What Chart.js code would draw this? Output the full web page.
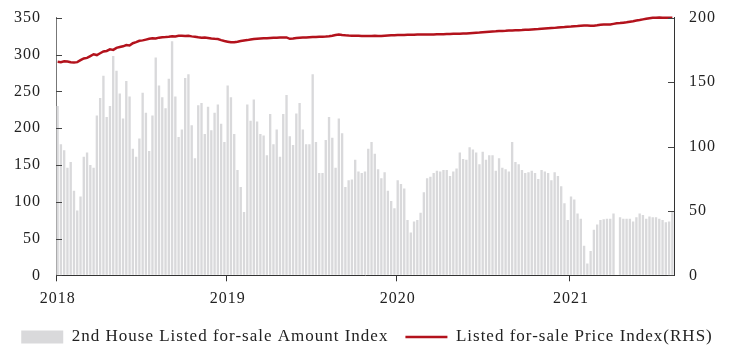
<!DOCTYPE html>
<html><head><meta charset="utf-8">
<script src="https://cdn.jsdelivr.net/npm/chart.js@4/dist/chart.umd.min.js"></script>
<style>html,body{margin:0;padding:0;background:#fff}#wrap{width:734px;height:357px;position:relative}</style>
</head><body><div id="wrap"><canvas id="c"></canvas></div>
<script>
const years = ['2018','2019','2020','2021'];
const weeksPerYear = [52,52,53,32];
const amount2018 = [230,178,170,146,154,115,88,107,161,167,150,146,217,241,271,215,230,298,278,247,213,264,243,172,161,186,248,221,169,217,296,258,242,227,267,318,243,188,198,268,273,204,159,231,234,192,229,197,221,232,206,181];
const amount2019 = [258,242,192,143,120,86,232,210,239,209,192,190,163,219,178,198,161,219,245,189,177,220,234,198,178,178,273,181,139,139,184,215,187,146,213,193,120,129,130,157,141,139,141,172,181,165,144,132,140,115,101,91];
const amount2020 = [129,124,118,75,58,73,75,85,113,132,134,139,142,141,143,143,135,141,145,167,158,157,174,171,167,151,168,157,163,163,142,159,146,144,141,181,154,151,143,139,140,142,139,131,143,141,139,129,140,135,121,98,75];
const amount2021 = [107,103,84,77,40,16,33,62,69,75,76,77,77,84,null,79,77,77,77,73,79,84,82,77,80,79,79,77,75,72,73,86];
const price2018 = [165.8,165.5,166.2,166.0,165.4,165.2,165.5,167.0,168.4,168.8,170.2,171.6,171.0,172.4,173.8,174.2,175.4,175.0,176.6,177.2,177.8,178.8,178.4,180.2,181.0,182.1,182.4,183.0,183.6,184.0,183.8,184.5,184.9,185.0,185.2,185.6,185.4,185.9,186.0,185.8,185.9,185.5,185.2,184.8,184.5,184.6,184.3,183.9,183.6,183.4,182.6,181.9];
const price2019 = [181.4,180.9,181.0,181.4,181.9,182.3,182.6,183.0,183.4,183.6,183.8,184.0,184.1,184.3,184.4,184.5,184.6,184.7,184.7,183.6,183.9,184.3,184.5,184.6,184.7,184.9,185.0,185.1,185.2,185.3,185.4,185.6,186.0,186.6,187.0,186.6,186.3,186.1,186.0,185.9,185.9,185.8,185.8,185.8,185.8,185.9,185.8,185.8,186.0,186.2,186.3,186.4];
const price2020 = [186.5,186.6,186.6,186.7,186.7,186.8,186.9,187.0,187.0,187.0,187.0,187.0,187.1,187.2,187.2,187.3,187.4,187.5,187.5,187.6,187.7,187.8,188.0,188.2,188.4,188.5,188.7,188.9,189.1,189.3,189.4,189.6,189.7,189.8,190.0,190.1,190.2,190.3,190.4,190.6,190.7,190.9,191.1,191.2,191.4,191.6,191.8,192.0,192.1,192.3,192.5,192.7,193.0];
const price2021 = [193.1,193.3,193.5,193.8,194.0,193.9,193.8,193.8,194.1,194.6,194.8,194.7,194.8,195.2,195.6,195.8,196.1,196.4,196.9,197.3,197.8,198.2,198.7,199.2,199.6,200.0,200.0,200.1,200.0,199.9,200.0,200.0];
const leftTicks = [0,50,100,150,200,250,300,350];
const rightTicks = [0,50,100,150,200];
const seriesNames = ['2nd House Listed for-sale Amount Index','Listed for-sale Price Index(RHS)'];

const amountIndex = [...amount2018,...amount2019,...amount2020,...amount2021];
const priceIndex = [...price2018,...price2019,...price2020,...price2021];
const categories = [];
years.forEach((y,i)=>{for(let w=1;w<=weeksPerYear[i];w++) categories.push(y+'-W'+String(w).padStart(2,'0'));});

const FONT = "'Liberation Serif','Times New Roman',serif";
const AXIS = '#333';
const NONE = 'rgba(0,0,0,0)';

const spacing = {
  id:'spacing',
  beforeInit(chart){ try{chart.ctx.letterSpacing='1px';}catch(e){} },
  beforeUpdate(chart){ try{chart.ctx.letterSpacing='1px';}catch(e){} },
  beforeDraw(chart){ try{chart.ctx.letterSpacing='1px';}catch(e){} }
};

const innerTicks = {
  id:'innerTicks',
  afterDraw(chart){
    const ctx = chart.ctx;
    ctx.save(); ctx.strokeStyle = '#444'; ctx.lineWidth = 1;
    [['y',leftTicks],['y1',rightTicks]].forEach(([id,vals])=>{
      const s = chart.scales[id];
      vals.forEach(v=>{
        const py = Math.round(s.getPixelForValue(v))+0.5;
        ctx.beginPath();
        if(id==='y'){ctx.moveTo(s.right,py);ctx.lineTo(s.right+6,py);}
        else {ctx.moveTo(s.left-6,py);ctx.lineTo(s.left,py);}
        ctx.stroke();
      });
    });
    ctx.restore();
  }
};

new Chart(document.getElementById('c'),{
  data:{
    labels:categories,
    datasets:[
      {type:'line',label:seriesNames[1],data:priceIndex,yAxisID:'y1',borderColor:'#B3121C',backgroundColor:'#B3121C',borderWidth:2.5,pointRadius:0,pointStyle:'line',tension:0,order:0,clip:false},
      {type:'bar',label:seriesNames[0],data:amountIndex,yAxisID:'y',backgroundColor:'#D9D9DB',borderWidth:0,barPercentage:0.72,categoryPercentage:1.0,pointStyle:'rect',order:1}
    ]
  },
  options:{
    responsive:true,maintainAspectRatio:false,animation:false,
    layout:{padding:{top:17.7,left:0,right:0,bottom:1.5}},
    plugins:{
      tooltip:{enabled:false},
      legend:{position:'bottom',
        labels:{usePointStyle:true,pointStyleWidth:42,boxHeight:13,padding:17,color:'#222',font:{family:FONT,size:17},
          sort:(a,b)=>b.datasetIndex-a.datasetIndex}
      }
    },
    scales:{
      x:{
        type:'category',
        grid:{drawOnChartArea:false,tickLength:6,offset:true,
          color:c=>(c.tick&&c.tick.label)?AXIS:NONE},
        border:{display:true,color:AXIS},
        ticks:{autoSkip:false,maxRotation:0,minRotation:0,padding:8,color:'#222',font:{family:FONT,size:16},
          callback:function(v,i){const l=categories[i];return l.endsWith('-W01')?l.slice(0,4):'';}},
        afterFit:s=>{s.height=36.2;}
      },
      y:{
        position:'left',min:0,max:350,
        grid:{drawOnChartArea:false,drawTicks:true,tickLength:14,tickColor:NONE},
        border:{display:true,color:'#777'},
        ticks:{stepSize:50,padding:1,color:'#222',font:{family:FONT,size:16}},
        afterFit:s=>{s.width=56;}
      },
      y1:{
        position:'right',min:0,max:200,
        grid:{drawOnChartArea:false,drawTicks:true,tickLength:14,tickColor:NONE},
        border:{display:true,color:AXIS},
        ticks:{stepSize:50,padding:1,color:'#222',font:{family:FONT,size:16}},
        afterFit:s=>{s.width=60;}
      }
    }
  },
  plugins:[spacing,innerTicks]
});
</script></body></html>
